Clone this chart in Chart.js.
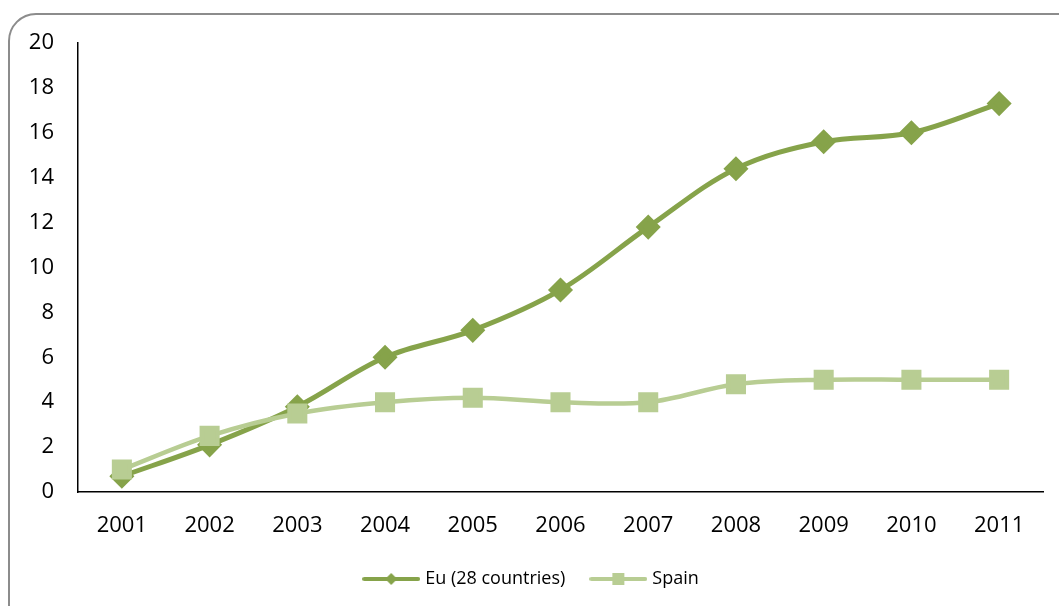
<!DOCTYPE html>
<html>
<head>
<meta charset="utf-8">
<script src="https://cdn.jsdelivr.net/npm/chart.js@4"></script>
<style>
  html, body { margin: 0; padding: 0; background: #fff; overflow: hidden; }
  #wrap { position: relative; width: 1059px; height: 606px; }
  #frame {
    position: absolute; left: 8px; top: 13px; width: 1100px; height: 650px;
    border: 2px solid #8c8c8c; border-radius: 28px; box-sizing: border-box;
  }
  canvas { position: absolute; left: 0; top: 0; }
</style>
</head>
<body>
<div id="wrap">
  <div id="frame"></div>
  <canvas id="chart" width="1059" height="606"></canvas>
</div>
<script>
// Dados do gráfico
const years = ['2001', '2002', '2003', '2004', '2005', '2006', '2007', '2008', '2009', '2010', '2011'];
const euValues = [0.7, 2.1, 3.8, 6.0, 7.2, 9.0, 11.8, 14.4, 15.6, 16.0, 17.3];
const spainValues = [1.0, 2.5, 3.5, 4.0, 4.2, 4.0, 4.0, 4.8, 5.0, 5.0, 5.0];
const seriesNames = ['Eu (28 countries)', 'Spain'];

const euColor = '#86a34a';
const spainColor = '#b8cd93';

// Ícone da legenda: linha com marcador
function legendIcon(color, shape, lineW) {
  const c = document.createElement('canvas');
  c.width = 58; c.height = 20;
  const g = c.getContext('2d');
  g.strokeStyle = color;
  g.lineWidth = lineW;
  g.lineCap = 'round';
  g.beginPath();
  g.moveTo(2, 10); g.lineTo(56, 10);
  g.stroke();
  g.fillStyle = color;
  if (shape === 'diamond') {
    g.beginPath();
    g.moveTo(29, 4); g.lineTo(35, 10); g.lineTo(29, 16); g.lineTo(23, 10);
    g.closePath(); g.fill();
  } else {
    g.fillRect(23, 4, 12, 12);
  }
  return c;
}

const icons = [legendIcon(euColor, 'diamond', 4), legendIcon(spainColor, 'square', 4)];

new Chart(document.getElementById('chart'), {
  type: 'line',
  data: {
    labels: years,
    datasets: [
      {
        label: seriesNames[0],
        data: euValues,
        borderColor: euColor,
        backgroundColor: euColor,
        borderWidth: 5,
        pointStyle: 'rectRot',
        pointRadius: 9,
        pointHoverRadius: 9,
        tension: 0.35,
        order: 1
      },
      {
        label: seriesNames[1],
        data: spainValues,
        borderColor: spainColor,
        backgroundColor: spainColor,
        borderWidth: 4.5,
        pointStyle: 'rect',
        pointRadius: 11,
        pointHoverRadius: 11,
        tension: 0.35,
        order: 0
      }
    ]
  },
  options: {
    responsive: false,
    animation: false,
    layout: { padding: { left: 22, right: 16, top: 43, bottom: 8 } },
    plugins: {
      tooltip: { enabled: false },
      legend: {
        position: 'bottom',
        labels: {
          usePointStyle: true,
          pointStyleWidth: 50,
          boxHeight: 20,
          generateLabels: (chart) => chart.data.datasets.map((ds, i) => ({
            text: ds.label,
            pointStyle: icons[i],
            fillStyle: ds.borderColor,
            strokeStyle: ds.borderColor,
            lineWidth: 0,
            datasetIndex: i,
            fontColor: '#000'
          })),
          font: { family: 'Open Sans', size: 18 },
          color: '#000',
          padding: 28
        }
      }
    },
    scales: {
      x: {
        offset: true,
        grid: { display: false, drawTicks: false },
        border: { color: '#000', width: 1.5 },
        ticks: { color: '#000', font: { family: 'Open Sans', size: 22 }, padding: 21 },
        afterFit: (scale) => { scale.height = 50; }
      },
      y: {
        min: 0,
        max: 20,
        grid: { display: false, drawTicks: false },
        border: { color: '#000', width: 1.5 },
        ticks: { stepSize: 2, color: '#000', font: { family: 'Open Sans', size: 22 }, padding: 24 },
        afterFit: (scale) => { scale.width = 56; }
      }
    }
  }
});
</script>
</body>
</html>
